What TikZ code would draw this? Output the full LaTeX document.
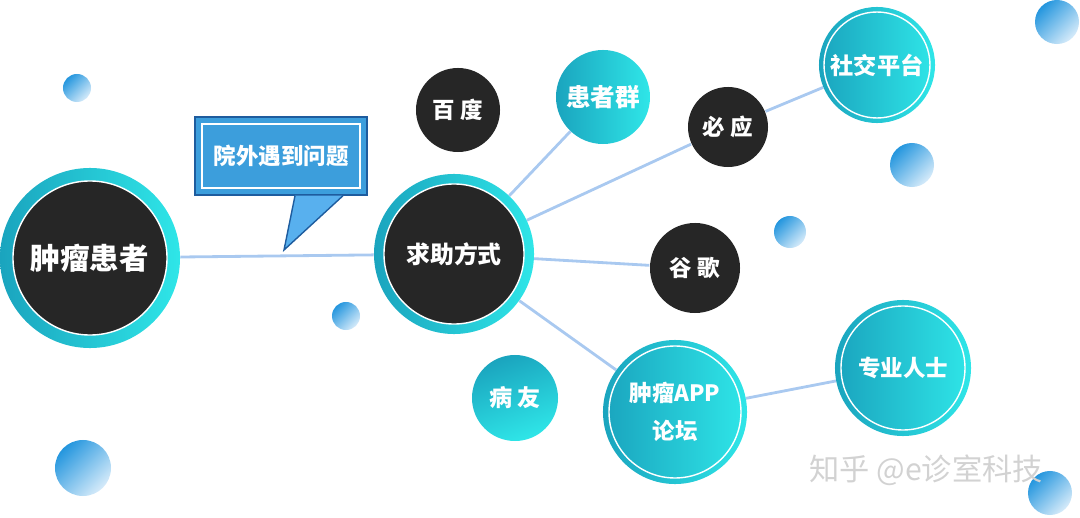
\documentclass[tikz,border=0pt]{standalone}
\usepackage{fontspec}
\setmainfont{Noto Sans CJK SC}
\usepackage{xcolor}
\usetikzlibrary{positioning,calc,backgrounds,shapes.geometric}

\definecolor{darkdisk}{HTML}{262626}
\definecolor{tealA}{HTML}{1AA4BE}
\definecolor{tealB}{HTML}{2FE6E8}
\definecolor{ballA}{HTML}{2496DE}
\definecolor{ballB}{HTML}{D6EBFA}
\definecolor{linkblue}{HTML}{A9C9F0}
\definecolor{calloutfill}{HTML}{3C9EDC}
\definecolor{calloutline}{HTML}{1E5C9E}
\definecolor{pointerfill}{HTML}{58B0EE}

\begin{document}
\begin{tikzpicture}[x=0.025cm, y=-0.025cm,
    ring/.style={circle, left color=tealA, right color=tealB, draw=none, inner sep=0pt},
    darkdisk/.style={circle, fill=darkdisk, draw=white, line width=1pt, text=white, font=\bfseries, inner sep=0pt, align=center},
    tealdisk/.style={circle, left color=tealA, right color=tealB, draw=none, text=white, font=\bfseries, inner sep=0pt, align=center},
    innerline/.style={draw=white, line width=1pt},
    ball/.style={circle, top color=ballA, bottom color=ballB, shading angle=45, draw=none, inner sep=0pt},
    link/.style={draw=linkblue, line width=2pt}]
    \useasboundingbox (0,0) rectangle (1080,518);

    % small decoration balls
    \node[ball, minimum size=0.7cm] (b1) at (77,88) {};
    \node[ball, minimum size=1.1cm] (b2) at (1057,22) {};
    \node[ball, minimum size=1.1cm] (b3) at (912,165) {};
    \node[ball, minimum size=0.8cm] (b4) at (790,232) {};
    \node[ball, minimum size=0.7cm] (b5) at (346,316) {};
    \node[ball, minimum size=1.4cm] (b6) at (83,468) {};

    % main circles
    \node[ring, minimum size=4.5cm] (patient) at (90,258) {};
    \node[darkdisk, minimum size=3.85cm, font=\bfseries\fontsize{21}{24}\selectfont] (patientin) at (patient.center) {肿瘤患者};
    \node[ring, minimum size=4.0cm] (help) at (454,254) {};
    \node[darkdisk, minimum size=3.5cm, font=\bfseries\fontsize{17}{20}\selectfont] (helpin) at (help.center) {求助方式};

    % dark options
    \node[darkdisk, draw=none, minimum size=2.1cm, font=\bfseries\fontsize{16}{18}\selectfont] (baidu) at (458,110) {百 度};
    \node[darkdisk, draw=none, minimum size=2.0cm, font=\bfseries\fontsize{16}{18}\selectfont] (bing) at (728,127) {必 应};
    \node[darkdisk, draw=none, minimum size=2.25cm, font=\bfseries\fontsize{16}{18}\selectfont] (google) at (695,268) {谷 歌};

    % teal options
    \node[tealdisk, minimum size=2.35cm, font=\bfseries\fontsize{17.5}{20}\selectfont] (group) at (603,97) {患者群};
    \node[tealdisk, minimum size=2.9cm, font=\bfseries\fontsize{16.5}{19}\selectfont] (social) at (877,65) {社交平台};
    \draw[innerline] (social.center) circle (53);
    \node[tealdisk, top color=tealA, bottom color=tealB, shading angle=20, minimum size=2.15cm, font=\bfseries\fontsize{16.5}{19}\selectfont] (friend) at (515,398) {病 友};
    \node[tealdisk, minimum size=3.6cm, font=\bfseries\fontsize{16}{27}\selectfont] (forum) at (675,412) {肿瘤APP\\论坛};
    \draw[innerline] (forum.center) circle (66);
    \node[tealdisk, minimum size=3.4cm, font=\bfseries\fontsize{16}{19}\selectfont] (expert) at (903,368) {专业人士};
    \draw[innerline] (expert.center) circle (62);

    % callout
    \node[rectangle, fill=calloutfill, draw=calloutline, line width=1pt, minimum width=4.3cm, minimum height=1.95cm] (callout) at (281,156) {};
    \draw[calloutline, line width=1pt, fill=pointerfill] ($(callout.south)+(14,0)$) coordinate (pa) -- (284,250) coordinate (tip) -- ($(callout.south)+(62,0)$) coordinate (pb);
    \node[rectangle, draw=white, line width=1.2pt, minimum width=3.95cm, minimum height=1.6cm, text=white, font=\bfseries\fontsize{16}{18}\selectfont] (calltext) at (callout.center) {院外遇到问题};

    \node[ball, minimum size=1.1cm] (b7) at (1050,493) {};
    % watermark
    \node[text=gray!35, font=\fontsize{21.5}{24}\selectfont] (mark) at (926,470) {知乎 @e诊室科技};

    % links
    \begin{scope}[on background layer]
        \draw[link] (patient) -- (help);
        \draw[link] (help) -- (group);
        \draw[link] (help) -- (bing);
        \draw[link] (bing) -- (social);
        \draw[link] (help) -- (google);
        \draw[link] (help) -- (forum);
        \draw[link] (forum) -- (expert);
    \end{scope}
\end{tikzpicture}
\end{document}
